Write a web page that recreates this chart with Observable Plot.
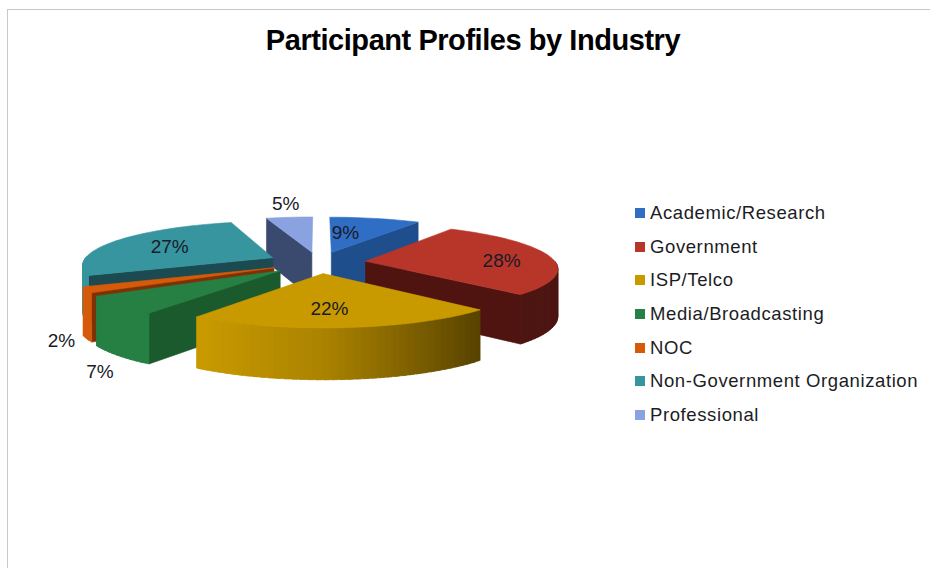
<!DOCTYPE html>
<html><head><meta charset="utf-8">
<script src="https://cdn.jsdelivr.net/npm/d3@7"></script>
<script src="https://cdn.jsdelivr.net/npm/@observablehq/plot@0.6"></script>
<style>
html,body{margin:0;padding:0;background:#fff;width:930px;height:568px;overflow:hidden;font-family:"Liberation Sans",Arial,sans-serif;color:#1c1c24}
#frame{position:absolute;left:7px;top:9px;right:0;bottom:0;border-left:1px solid #c8c8c8;border-top:1px solid #c8c8c8;pointer-events:none}
#title{position:relative;height:72px;box-sizing:border-box;padding-top:23px;width:946px;text-align:center;font-weight:bold;font-size:29px;line-height:34px;color:#000;letter-spacing:-.45px}
#chart{position:absolute;left:0;top:72px}
#legend{position:absolute;left:635px;top:196px}
.row{height:33.7px;display:flex;align-items:center;font-size:18.5px;letter-spacing:.6px;white-space:nowrap}
.sw{width:10px;height:10px;margin-right:5px;flex:none}
</style></head><body>
<div id="frame"></div>
<div id="title">Participant Profiles by Industry</div>
<div id="chart"></div>
<div id="legend"></div>
<script>
const categories = ["Academic/Research","Government","ISP/Telco","Media/Broadcasting","NOC","Non-Government Organization","Professional"];
const shares = [9,28.4,22.2,6.7,2.1,27,4.6];
const topColors = ["#2f6ec4","#b8352a","#c99a00","#268044","#d65a0a","#36959e","#8aa2e0"];
const cutColors = ["#1f4e8c","#4f1410","#5a4700","#1a5a2c","#7c3205","#1b4a50","#3a4a6e"];

// layout of the perspective view
const radiusPx = 190, tiltPx = 43, eye = 7, depth = 47/43;
const explodeBy = [.25,.25,.25,.27,.26,.27,.25];
const centerX = 318, centerY = 190, W = 930, H = 496;
const paintOrder = [6,0,5,4,1,3,2];
const labelScreenFit = [[11.1,.79],[87.2,.966],[177.2,.929],[204.5,2.046],[216.8,1.8],[295.3,.921],[352.6,1.72]];

const rad = d => d*Math.PI/180;
function project(X,Y){const s = eye/(eye+Y); return {u:X*s, v:Y*s, s};}

let acc = 0;
const slices = shares.map((p,i)=>{const a0 = acc*3.6; acc += p; const a1 = acc*3.6;
  const m = (a0+a1)/2;
  return {i,name:categories[i],p,a0,a1,ox:explodeBy[i]*Math.sin(rad(m)),oy:explodeBy[i]*Math.cos(rad(m))};});

const pts = [];
let pid = 0;
function poly(list,c){const id = pid++; for(const q of [...list,list[0]]) pts.push({u:q.u,v:q.v,id,c});}
function rim(sl,a){return project(sl.ox+Math.sin(rad(a)),sl.oy+Math.cos(rad(a)));}
const drop = q => ({u:q.u, v:q.v-depth*Math.sqrt(q.s)});
function shade(c,a){const x=Math.sin(rad(a));
  const t=x<=-.55?1:x<0?1-.15*(x+.55)/.55:x>=.73?.42:.85-.43*x/.73;
  const k=d3.rgb(c);return d3.rgb(k.r*t,k.g*t,k.b*t).formatHex();}

for(const idx of paintOrder){
  const sl = slices[idx], apex = project(sl.ox,sl.oy);
  const cut = (a,normal)=>{ if(Math.cos(rad(normal))<0){const r=rim(sl,a);
      poly([apex,r,drop(r),drop(apex)],cutColors[idx]);}};
  cut(sl.a0,sl.a0-90); cut(sl.a1,sl.a1+90);
  const step = 2, arc = [];
  for(let a=sl.a0;a<sl.a1;a+=step) arc.push(a);
  arc.push(sl.a1);
  for(let k=0;k<arc.length-1;k++){
    const a=arc[k],b=arc[k+1];
    if(Math.cos(rad((a+b)/2))<0){
      // each strip runs on under the next one, so no seam shows between strips
      const end=Math.min(b+1.5,sl.a1), ra=rim(sl,a),rb=rim(sl,end),rm=rim(sl,(a+end)/2);
      poly([ra,rm,rb,drop(rb),drop(rm),drop(ra)],shade(topColors[idx],(a+b)/2));}
  }
  poly([apex,...arc.map(a=>rim(sl,a))],topColors[idx]);
}

const labels = slices.map((sl,i)=>{const [a,r]=labelScreenFit[i];
  const X=r*Math.sin(rad(a)),Y=r*Math.cos(rad(a));
  const q=project(X,Y);return {u:q.u+1/radiusPx,v:q.v,t:Math.round(sl.p)+"%"};});

const plot = Plot.plot({
  width:W,height:H,margin:0,
  x:{domain:[-centerX/radiusPx,(W-centerX)/radiusPx],range:[0,W],axis:null},
  y:{domain:[centerY/tiltPx,(centerY-H)/tiltPx],range:[0,H],axis:null},
  color:{type:"identity"},
  style:{background:"transparent"},
  marks:[
    Plot.line(pts,{x:"u",y:"v",z:"id",fill:"c",stroke:"c",strokeWidth:.6,curve:"linear"}),
    Plot.text(labels,{x:"u",y:"v",text:"t",fontSize:19,fill:"#1a1a28",fontFamily:"Liberation Sans"})
  ]
});
document.getElementById("chart").appendChild(plot);

const lg = d3.select("#legend").selectAll(".row").data(categories).join("div").attr("class","row");
lg.append("span").attr("class","sw").style("background",(d,i)=>topColors[i]);
lg.append("span").text(d=>d);
</script>
</body></html>
